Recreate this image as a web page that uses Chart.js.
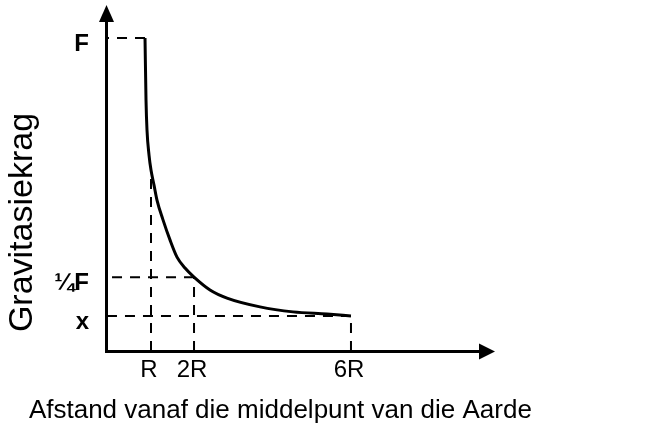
<!DOCTYPE html>
<html>
<head>
<meta charset="utf-8">
<script src="https://cdn.jsdelivr.net/npm/chart.js@4/dist/chart.umd.min.js"></script>
<style>
  html, body { margin: 0; padding: 0; background: #fff; }
  #wrap { width: 654px; height: 434px; }
</style>
</head>
<body>
<div id="wrap"><canvas id="c" width="654" height="434"></canvas></div>
<script>
// Distance in units of R (schematic)
const distance = [0.867, 0.889, 0.911, 0.956, 1.0, 1.067, 1.133, 1.267, 1.422, 1.578, 1.756, 1.956, 2.311, 2.689, 3.422, 4.156, 4.911, 5.444];
// Gravitational force as a fraction of F
const force    = [1.0, 0.802, 0.706, 0.626, 0.578, 0.530, 0.482, 0.419, 0.355, 0.300, 0.265, 0.236, 0.195, 0.169, 0.141, 0.125, 0.118, 0.112];

const xTickValues = [1, 1.956, 5.444];
const xTickLabels = ['R', '2R', '6R'];
const yTickValues = [0.112, 0.236, 1];
const yTickLabels = ['x', '¼F', 'F'];

// Guide lines: horizontal from the y-axis to the curve, vertical from the x-axis to the curve
const hGuideY   = [1, 0.236, 0.112];
const hGuideEnd = [0.867, 1.956, 5.444];
const vGuideX   = [1, 1.956, 5.444];
const vGuideTop = [0.578, 0.236, 0.112];

const xTitle = 'Afstand vanaf die middelpunt van die Aarde';
const yTitle = 'Gravitasiekrag';

const FONT = '"Liberation Sans", Arial, sans-serif';
const curve = distance.map((d, i) => ({ x: d, y: force[i] }));

const datasets = [{
  data: curve,
  borderColor: '#000',
  borderWidth: 3,
  pointRadius: 0,
  showLine: true,
  fill: false,
  cubicInterpolationMode: 'monotone',
  clip: false
}];
hGuideY.forEach((y, i) => {
  datasets.push({
    data: [{ x: hGuideEnd[i], y: y }, { x: 0, y: y }],
    borderColor: '#000', borderWidth: 2, borderDash: [10, 8],
    pointRadius: 0, showLine: true, fill: false, clip: false
  });
});
vGuideX.forEach((x, i) => {
  datasets.push({
    data: [{ x: x, y: 0 }, { x: x, y: vGuideTop[i] }],
    borderColor: '#000', borderWidth: 2, borderDash: [10, 8],
    pointRadius: 0, showLine: true, fill: false, clip: false
  });
});

const arrows = {
  id: 'arrows',
  afterDraw(chart) {
    const ctx = chart.ctx;
    const a = chart.chartArea;
    const x0 = chart.scales.x.getPixelForValue(0);
    const y0 = chart.scales.y.getPixelForValue(0);
    ctx.save();
    ctx.fillStyle = '#000';
    ctx.beginPath();
    ctx.moveTo(a.right - 1, y0 - 7.5);
    ctx.lineTo(a.right + 15, y0 + 0.5);
    ctx.lineTo(a.right - 1, y0 + 8.5);
    ctx.closePath();
    ctx.fill();
    ctx.beginPath();
    ctx.moveTo(x0 - 7, a.top + 1);
    ctx.lineTo(x0 + 0.5, a.top - 16);
    ctx.lineTo(x0 + 8, a.top + 1);
    ctx.closePath();
    ctx.fill();
    ctx.restore();
  }
};

const noPad = s => { s.paddingTop = 0; s.paddingBottom = 0; s.paddingLeft = 0; s.paddingRight = 0; };

new Chart(document.getElementById('c'), {
  type: 'scatter',
  data: { datasets },
  plugins: [arrows],
  options: {
    responsive: false,
    animation: false,
    layout: { padding: { left: 0, top: 21, right: 0, bottom: 0 } },
    plugins: {
      legend: { display: false },
      tooltip: { enabled: false },
      title: {
        display: true, position: 'bottom', align: 'start',
        text: '\u00a0\u00a0\u00a0\u00a0' + xTitle, color: '#000',
        font: { family: FONT, size: 26, weight: 'normal', lineHeight: 1 },
        padding: { top: 4, bottom: 10 }
      }
    },
    scales: {
      x: {
        type: 'linear',
        min: 0,
        max: 374 / 45,
        grid: { display: false, drawTicks: false },
        border: { display: true, color: '#000', width: 3 },
        afterBuildTicks: s => { s.ticks = xTickValues.map(v => ({ value: v })); },
        afterFit: s => { s.height = 43; noPad(s); },
        ticks: {
          autoSkip: false, maxRotation: 0, padding: 5, labelOffset: -2,
          color: '#000',
          font: { family: FONT, size: 24 },
          callback: (v, i) => xTickLabels[i]
        }
      },
      y: {
        type: 'linear',
        min: 0,
        max: 330 / 313,
        grid: { display: false, drawTicks: false },
        border: { display: true, color: '#000', width: 3 },
        afterBuildTicks: s => { s.ticks = yTickValues.map(v => ({ value: v })); },
        afterFit: s => { s.width = 106; noPad(s); },
        ticks: {
          autoSkip: false, padding: 17, labelOffset: 6,
          color: '#000',
          font: { family: FONT, size: 24, weight: 'bold' },
          callback: (v, i) => yTickLabels[i]
        },
        title: {
          display: true, text: '\u00a0\u00a0' + yTitle, color: '#000', align: 'start',
          font: { family: FONT, size: 34, lineHeight: 1 },
          padding: { top: 6, bottom: 0 }
        }
      },
      yRight: {
        type: 'linear',
        position: 'right',
        display: true,
        min: 0, max: 1,
        grid: { display: false, drawTicks: false },
        border: { display: false },
        ticks: { display: false },
        afterFit: s => { s.width = 174; noPad(s); }
      }
    }
  }
});
</script>
</body>
</html>
